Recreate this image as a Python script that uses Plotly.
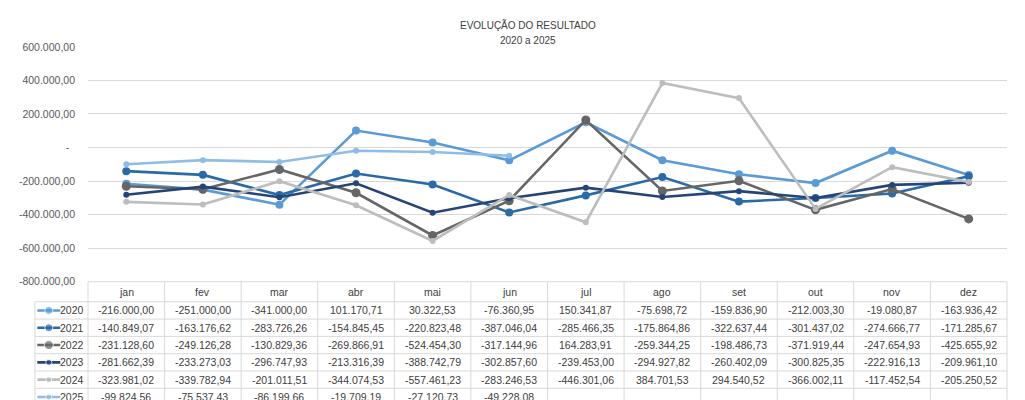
import plotly.graph_objects as go

meses = ["jan", "fev", "mar", "abr", "mai", "jun", "jul", "ago", "set", "out", "nov", "dez"]
anos = ["2020", "2021", "2022", "2023", "2024", "2025"]

v2020 = [-216000.00, -251000.00, -341000.00, 101170.71, 30322.53, -76360.95,
         150341.87, -75698.72, -159836.90, -212003.30, -19080.87, -163936.42]
v2021 = [-140849.07, -163176.62, -283726.26, -154845.45, -220823.48, -387046.04,
         -285466.35, -175864.86, -322637.44, -301437.02, -274666.77, -171285.67]
v2022 = [-231128.60, -249126.28, -130829.36, -269866.91, -524454.30, -317144.96,
         164283.91, -259344.25, -198486.73, -371919.44, -247654.93, -425655.92]
v2023 = [-281662.39, -233273.03, -296747.93, -213316.39, -388742.79, -302857.60,
         -239453.00, -294927.82, -260402.09, -300825.35, -222916.13, -209961.10]
v2024 = [-323981.02, -339782.94, -201011.51, -344074.53, -557461.23, -283246.53,
         -446301.06, 384701.53, 294540.52, -366002.11, -117452.54, -205250.52]
v2025 = [-99824.56, -75537.43, -86199.66, -19709.19, -27120.73, -49228.08]

y_ticks = [600000, 400000, 200000, 0, -200000, -400000, -600000, -800000]
y_ticktext = ["600.000,00", "400.000,00", "200.000,00", "-\u00a0\u00a0",
              "-200.000,00", "-400.000,00", "-600.000,00", "-800.000,00"]

series = [v2020, v2021, v2022, v2023, v2024, v2025]
cores = ["#5b9bd5", "#2a6aa6", "#666666", "#264478", "#bdbdbd", "#8fbde6"]
tam_marcador = [8, 8, 9, 6, 6, 6]

W, H = 1025, 400
# deslocamento/escala observados entre a figura e a foto da janela
OFF_X, OFF_Y, ESC_Y = 8, 15, 0.964
FONTE = "Liberation Sans, Arial"
TAM_FONTE = 10.5
COR_TEXTO = "#404040"
COR_GRADE = "#d9d9d9"

# geometria (px da foto) do grafico e da tabela
PLOT_L, PLOT_R = 88, 1007
PLOT_T, PLOT_B = 47.7, 281
COL_PX = (PLOT_R - PLOT_L) / 12
ROW_PX, HEAD_PX = 17.2, 20
FUNDO = OFF_Y + ESC_Y * H
KEY_LEFT = -0.5 - (PLOT_L - 35) / COL_PX
x2_min = KEY_LEFT - 0.03
head_top = -0.5 - HEAD_PX / ROW_PX
y2_top = head_top - 1 / ROW_PX
y2_bottom = y2_top + (FUNDO - (PLOT_B - 1)) / ROW_PX


def fmt(v):
    s = f"{v:,.2f}"
    return s.replace(",", "X").replace(".", ",").replace("X", ".")


def px_x(p):
    return (p - OFF_X) / W


def px_y(p):
    return 1 - (p - OFF_Y) / ESC_Y / H


fig = go.Figure()

for ano, vals, cor, tam in zip(anos, series, cores, tam_marcador):
    fig.add_trace(
        go.Scatter(
            x=meses[:len(vals)],
            y=vals,
            name=ano,
            mode="lines+markers",
            line=dict(color=cor, width=2.6),
            marker=dict(size=tam, color=cor),
            xaxis="x",
            yaxis="y",
        )
    )

# chaves da legenda dentro da tabela
for k, (ano, cor, tam) in enumerate(zip(anos, cores, tam_marcador)):
    fig.add_trace(
        go.Scatter(
            x=[KEY_LEFT + 0.03, KEY_LEFT + 0.18, KEY_LEFT + 0.33],
            y=[k, k, k],
            mode="lines+markers",
            line=dict(color=cor, width=2.6),
            marker=dict(size=[0, tam, 0], color=cor),
            xaxis="x2",
            yaxis="y2",
            hoverinfo="skip",
        )
    )

anotacoes = []
fonte_tab = dict(family=FONTE, size=TAM_FONTE, color=COR_TEXTO)

for i, mes in enumerate(meses):
    anotacoes.append(dict(x=i, y=(head_top - 0.5) / 2, xref="x2", yref="y2", text=mes,
                          showarrow=False, font=fonte_tab))

for k, (ano, vals) in enumerate(zip(anos, series)):
    anotacoes.append(dict(x=-0.53, y=k, xref="x2", yref="y2", text=ano, xanchor="right",
                          showarrow=False, font=fonte_tab))
    for i, v in enumerate(vals):
        anotacoes.append(dict(x=i, y=k, xref="x2", yref="y2", text=fmt(v),
                              showarrow=False, font=fonte_tab))

anotacoes.append(dict(x=px_x(528), y=px_y(25.5), xref="paper", yref="paper",
                      xanchor="center", yanchor="middle",
                      text="EVOLUÇÃO DO RESULTADO", showarrow=False,
                      font=dict(family=FONTE, size=10, color=COR_TEXTO)))
anotacoes.append(dict(x=px_x(528), y=px_y(41), xref="paper", yref="paper",
                      xanchor="center", yanchor="middle",
                      text="2020 a 2025", showarrow=False,
                      font=dict(family=FONTE, size=10, color=COR_TEXTO)))

formas = []
linha_tab = dict(color=COR_GRADE, width=1)

# linhas horizontais da tabela
formas.append(dict(type="line", xref="x2", yref="y2", x0=-0.5, x1=11.5,
                   y0=head_top, y1=head_top, line=linha_tab))
for k in range(len(anos) + 1):
    formas.append(dict(type="line", xref="x2", yref="y2", x0=KEY_LEFT, x1=11.5,
                       y0=k - 0.5, y1=k - 0.5, line=linha_tab))
# linhas verticais da tabela
for i in range(len(meses) + 1):
    formas.append(dict(type="line", xref="x2", yref="y2", x0=i - 0.5, x1=i - 0.5,
                       y0=head_top, y1=y2_bottom, line=linha_tab))
formas.append(dict(type="line", xref="x2", yref="y2", x0=KEY_LEFT, x1=KEY_LEFT,
                   y0=-0.5, y1=y2_bottom, line=linha_tab))

fig.update_layout(
    width=W,
    height=H,
    margin=dict(t=0, r=0, b=0, l=0),
    paper_bgcolor="white",
    plot_bgcolor="rgba(0,0,0,0)",
    showlegend=False,
    xaxis=dict(
        domain=[px_x(PLOT_L), px_x(PLOT_R)],
        range=[-0.5, 11.5],
        showticklabels=False,
        showgrid=False,
        zeroline=False,
        fixedrange=True,
    ),
    yaxis=dict(
        domain=[px_y(PLOT_B), px_y(PLOT_T)],
        range=[-800000, 600000],
        tickvals=y_ticks,
        ticktext=y_ticktext,
        showgrid=True,
        gridcolor=COR_GRADE,
        gridwidth=1,
        zeroline=False,
        ticklabelstandoff=12,
        tickfont=dict(family=FONTE, size=TAM_FONTE, color="#595959"),
        fixedrange=True,
    ),
    xaxis2=dict(
        domain=[px_x(PLOT_L + (x2_min + 0.5) * COL_PX), px_x(PLOT_R + 0.03 * COL_PX)],
        range=[x2_min, 11.53],
        visible=False,
        anchor="y2",
        fixedrange=True,
    ),
    yaxis2=dict(
        domain=[0, px_y(PLOT_B - 1)],
        range=[y2_bottom, y2_top],
        visible=False,
        anchor="x2",
        fixedrange=True,
    ),
    annotations=anotacoes,
    shapes=formas,
)

fig.write_html("out.html")
